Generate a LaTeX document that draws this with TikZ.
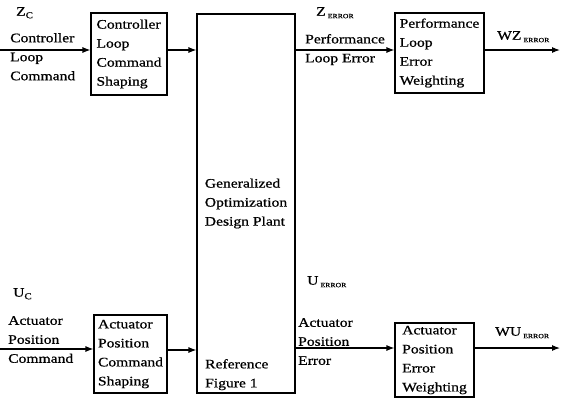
\documentclass[tikz,border=0pt]{standalone}
\usepackage{fontspec}
\setmainfont{Liberation Serif}[FakeStretch=1.2,FakeBold=0.8]
\usetikzlibrary{arrows.meta}
\newcommand{\errsub}{\raisebox{-2.5pt}{\fontsize{6.5}{6.5}\selectfont\ ERROR}}
\newcommand{\csub}[1]{\raisebox{-2.5pt}{\fontsize{9}{9}\selectfont #1}}
\begin{document}
\begin{tikzpicture}[x=1pt,y=-1pt,
  every node/.style={font=\fontsize{13}{19}\selectfont, inner sep=0pt},
  blk/.style={draw, line width=1.1pt, align=left, inner sep=2pt},
  lbl/.style={align=left, anchor=north west},
  arr/.style={-{Latex[length=8pt,width=6pt]}, line width=1.1pt}]
\useasboundingbox (0,0) rectangle (562,405);
% boxes
\node[blk, minimum width=76pt, minimum height=82pt] (cls) at (129,54) {Controller\\Loop\\Command\\Shaping};
\node[blk, minimum width=98pt, minimum height=379pt] (plant) at (246,203.5) {Generalized\\Optimization\\Design Plant};
\node[lbl] (ref) at (205,359) {Reference\\Figure 1};
\node[blk, minimum width=89pt, minimum height=80pt] (perf) at (439.5,53) {Performance\\Loop\\Error\\Weighting};
\node[blk, minimum width=73pt, minimum height=78pt] (acs) at (130.5,354) {Actuator\\Position\\Command\\Shaping};
\node[blk, minimum width=79pt, minimum height=74pt] (apw) at (434.5,360) {Actuator\\Position\\Error\\Weighting};
% labels
\node[lbl] (zc) at (16,7) {Z\csub{C}};
\node[lbl] (cmdlbl) at (10,33) {Controller\\Loop\\Command};
\node[lbl] (zerr) at (316,7) {Z\errsub};
\node[lbl] (perflbl) at (305,34) {Performance\\Loop Error};
\node[lbl] (wz) at (497,31) {WZ\errsub};
\node[lbl] (uc) at (13,288) {U\csub{C}};
\node[lbl] (acmd) at (8,316) {Actuator\\Position\\Command};
\node[lbl] (uerr) at (307,276) {U\errsub};
\node[lbl] (aerr) at (298,318) {Actuator\\Position\\Error};
\node[lbl] (wu) at (495,327) {WU\errsub};
% connectors
\coordinate (zin) at (0,50);
\coordinate (zout) at (560,50);
\coordinate (uin) at (0,349);
\coordinate (umid) at (0,350);
\coordinate (uout) at (560,348);
\draw[arr] (zin) -- (zin -| cls.west);
\draw[arr] (cls.east |- zin) -- (plant.west |- zin);
\draw[arr] (plant.east |- zin) -- (perf.west |- zin);
\draw[arr] (perf.east |- zout) -- (zout);
\draw[arr] (uin) -- (uin -| acs.west);
\draw[arr] (acs.east |- umid) -- (plant.west |- umid);
\draw[arr] (plant.east |- uout) -- (apw.west |- uout);
\draw[arr] (apw.east |- uout) -- (uout);
\end{tikzpicture}
\end{document}
